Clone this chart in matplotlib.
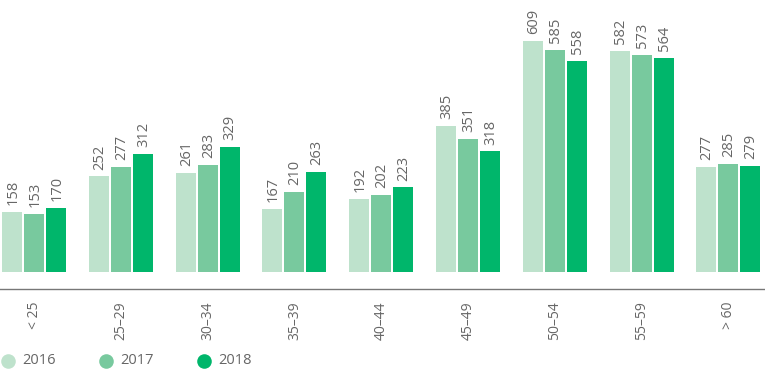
import matplotlib.pyplot as plt
import numpy as np

# 年齢層
age_groups = ["< 25", "25–29", "30–34", "35–39", "40–44", "45–49", "50–54", "55–59", "> 60"]
years = ["2016", "2017", "2018"]
values_2016 = [158, 252, 261, 167, 192, 385, 609, 582, 277]
values_2017 = [153, 277, 283, 210, 202, 351, 585, 573, 285]
values_2018 = [170, 312, 329, 263, 223, 318, 558, 564, 279]

colors = ["#bee2cc", "#78c99e", "#00b66b"]
text_color = "#666666"

plt.rcParams["font.family"] = ["Open Sans", "DejaVu Sans"]

W, H = 765, 380
fig = plt.figure(figsize=(W / 100, H / 100), dpi=100)

# 軸は図全体の幅、下端は軸線の位置
axis_y_px = 289
ax = fig.add_axes([0, (H - axis_y_px) / H, 1, axis_y_px / H])

group_px = 86.8
first_center_px = 34
bar_w = 20 / group_px
step = 22 / group_px
px_per_unit = 0.379
baseline_px = 272

x = np.arange(len(age_groups))
series = [values_2016, values_2017, values_2018]
for i, vals in enumerate(series):
    pos = x + (i - 1) * step
    ax.bar(pos, vals, width=bar_w, color=colors[i], linewidth=0)
    for p, v in zip(pos, vals):
        ax.annotate(str(v), (p, v), xytext=(0.5, 5), textcoords="offset points",
                    rotation=90, ha="center", va="bottom",
                    fontsize=10.5, color=text_color)

ax.set_xlim(-first_center_px / group_px, (W - first_center_px) / group_px)
y_bottom = -(axis_y_px - baseline_px) / px_per_unit
ax.set_ylim(y_bottom, baseline_px / px_per_unit)

for s in ["top", "right", "left"]:
    ax.spines[s].set_visible(False)
ax.spines["bottom"].set_color("#777777")
ax.spines["bottom"].set_linewidth(1.0)
ax.set_yticks([])
ax.set_xticks(x)
ax.set_xticklabels(age_groups, rotation=90, fontsize=10, color=text_color, va="top")
ax.tick_params(axis="x", length=0, pad=9)

# 凡例（下部に手動配置）
leg = fig.add_axes([0, 0, 1, 1], facecolor="none")
leg.set_xlim(0, W)
leg.set_ylim(H, 0)
leg.axis("off")
for i, (yr, c) in enumerate(zip(years, colors)):
    cx = 8 + i * 98
    leg.scatter([cx], [361], s=110, color=c, linewidths=0)
    leg.text(cx + 14, 361, yr, fontsize=10.5, color=text_color, va="center", ha="left")

fig.savefig("out.png", dpi=100)
